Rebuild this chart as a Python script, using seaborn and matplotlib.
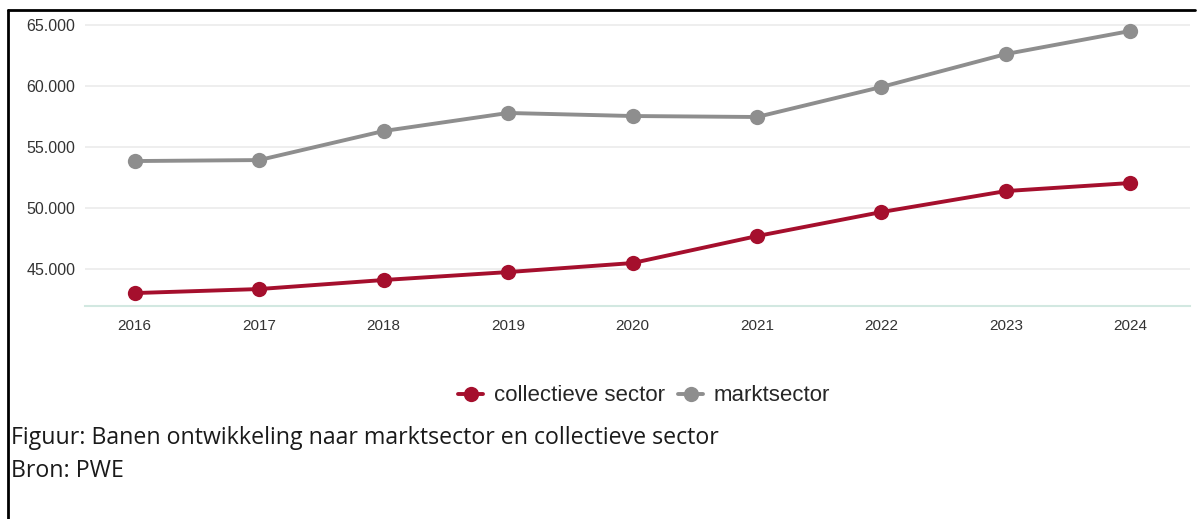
import pandas as pd
import numpy as np
import matplotlib.pyplot as plt
from matplotlib.ticker import FuncFormatter
from matplotlib.lines import Line2D
import seaborn as sns

sns.set_style('white')
plt.rcParams['font.family'] = ['Liberation Sans', 'DejaVu Sans']

years = [2016, 2017, 2018, 2019, 2020, 2021, 2022, 2023, 2024]
collectief = [43030, 43360, 44100, 44750, 45490, 47700, 49670, 51390, 52050]
markt = [53850, 53930, 56310, 57790, 57540, 57460, 59920, 62620, 64510]
sectors = ['collectieve sector', 'marktsector']
colors = ['#A50F2D', '#8E8E8E']

df = pd.DataFrame({
    'jaar': years * 2,
    'banen': collectief + markt,
    'sector': [sectors[0]] * len(years) + [sectors[1]] * len(years),
})

fig = plt.figure(figsize=(12, 5.19), dpi=100)
ax = fig.add_axes([0.0708, 0.4104, 0.9209, 0.5626])

sns.lineplot(ax=ax, data=df, x='jaar', y='banen', hue='sector', palette=colors,
             marker='o', markersize=11, markeredgewidth=0, linewidth=2.8, legend=False)

ax.set_xlim(2015.6, 2024.48)
ax.set_ylim(41970, 65900)
ax.set_xticks(years)
ax.set_yticks([45000, 50000, 55000, 60000, 65000])
ax.yaxis.set_major_formatter(FuncFormatter(lambda v, p: f'{int(v):,}'.replace(',', '.')))
ax.set_xlabel('')
ax.set_ylabel('')
ax.grid(axis='y', color='#EBEBEB', linewidth=1.2)
ax.grid(axis='x', visible=False)
for s in ['top', 'left', 'right']:
    ax.spines[s].set_visible(False)
ax.spines['bottom'].set_color('#D2E8E1')
ax.spines['bottom'].set_linewidth(1.5)
ax.tick_params(axis='x', length=4, width=1, color='#444444', labelsize=11,
               labelcolor='#333333', pad=5, direction='out')
ax.tick_params(axis='y', length=0, labelsize=11.5, labelcolor='#333333', pad=7)

handles = [Line2D([0], [0], color=c, marker='o', markersize=11, markeredgewidth=0,
                  linewidth=2.8) for c in colors]
fig.legend(handles, sectors, loc='center', bbox_to_anchor=(0.537, 0.237), ncol=2,
           frameon=False, fontsize=16, handlelength=1.1, handletextpad=0.5,
           columnspacing=0.6)

cap_font = ['Open Sans', 'DejaVu Sans']
fig.text(0.009, 0.145, 'Figuur: Banen ontwikkeling naar marktsector en collectieve sector',
         fontsize=16.7, family=cap_font, va='baseline', color='#1a1a1a')
fig.text(0.009, 0.080, 'Bron: PWE', fontsize=16.7, family=cap_font, va='baseline',
         color='#1a1a1a')

# black frame lines at left and top
fig.add_artist(Line2D([0.007, 0.007], [0.0, 0.981], color='black', linewidth=2,
                      transform=fig.transFigure))
fig.add_artist(Line2D([0.007, 0.996], [0.981, 0.981], color='black', linewidth=2,
                      transform=fig.transFigure))

fig.savefig('out.png', dpi=100)
